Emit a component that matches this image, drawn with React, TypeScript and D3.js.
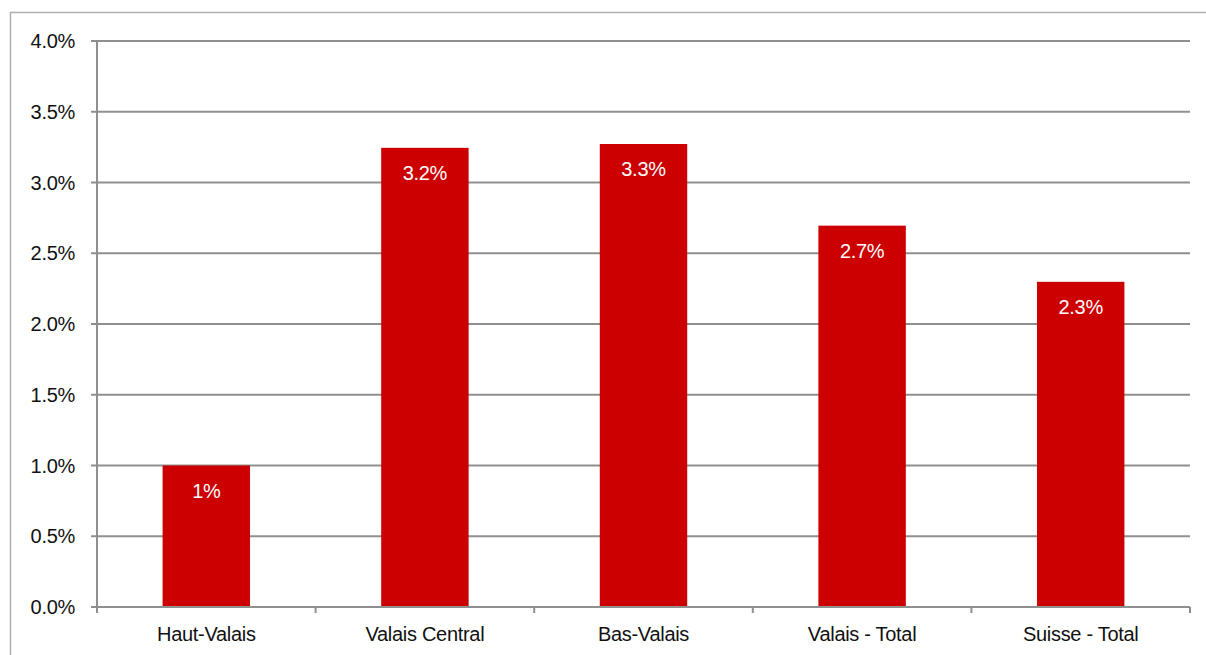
import React from "react";
import * as d3 from "d3";

const categories = ["Haut-Valais", "Valais Central", "Bas-Valais", "Valais - Total", "Suisse - Total"];
const values = [1.0, 3.245, 3.272, 2.695, 2.298];
const valueLabels = ["1%", "3.2%", "3.3%", "2.7%", "2.3%"];
const yTicks = [0, 0.5, 1.0, 1.5, 2.0, 2.5, 3.0, 3.5, 4.0];

const W = 1206;
const H = 655;
const plot = { left: 97, right: 1190, top: 41, bottom: 607 };
const FONT = "'Liberation Sans', Arial, sans-serif";

export default function App() {
  const x = d3.scaleBand<string>().domain(categories).range([plot.left, plot.right]).paddingInner(0.6).paddingOuter(0.3);
  const xb = d3.scaleBand<string>().domain(categories).range([plot.left, plot.right]);
  const y = d3.scaleLinear().domain([0, 4]).range([plot.bottom, plot.top]);
  const boundaries = [...categories.map((c) => xb(c)!), plot.right];

  return (
    <svg width={W} height={H} style={{ position: "absolute", left: 0, top: 0 }}>
      <rect x={0} y={0} width={W} height={H} fill="#fff" />
      <rect x={10.5} y={12.5} width={W} height={H} fill="none" stroke="#b0b0b0" strokeWidth={1.5} />
      {yTicks.map((t) => (
        <g key={t}>
          <line x1={plot.left - 6} x2={plot.right} y1={y(t)} y2={y(t)} stroke="#8f8f8f" strokeWidth={2} />
          <text x={75} y={y(t)} dy="0.35em" textAnchor="end" fontFamily={FONT} fontSize={20} letterSpacing={-0.3} fill="#111">
            {t.toFixed(1) + "%"}
          </text>
        </g>
      ))}
      {categories.map((c, i) => (
        <g key={c}>
          <rect x={x(c)} y={y(values[i])} width={x.bandwidth()} height={plot.bottom - y(values[i])} fill="#cc0000" />
          <text
            x={x(c)! + x.bandwidth() / 2}
            y={y(values[i]) + 25}
            dy="0.35em"
            textAnchor="middle"
            fontFamily={FONT}
            fontSize={20}
            letterSpacing={-0.3}
            fill="#fff"
          >
            {valueLabels[i]}
          </text>
          <text x={xb(c)! + xb.bandwidth() / 2} y={634} dy="0.35em" textAnchor="middle" fontFamily={FONT} fontSize={20} letterSpacing={-0.3} fill="#111">
            {c}
          </text>
        </g>
      ))}
      <line x1={plot.left - 6} x2={plot.right} y1={plot.bottom} y2={plot.bottom} stroke="#8f8f8f" strokeWidth={2} />
      {boundaries.map((b, i) => (
        <line key={i} x1={b} x2={b} y1={plot.bottom} y2={plot.bottom + 6} stroke="#8f8f8f" strokeWidth={2} />
      ))}
      <line x1={plot.left} x2={plot.left} y1={plot.top} y2={plot.bottom + 6} stroke="#8f8f8f" strokeWidth={2} />
    </svg>
  );
}
